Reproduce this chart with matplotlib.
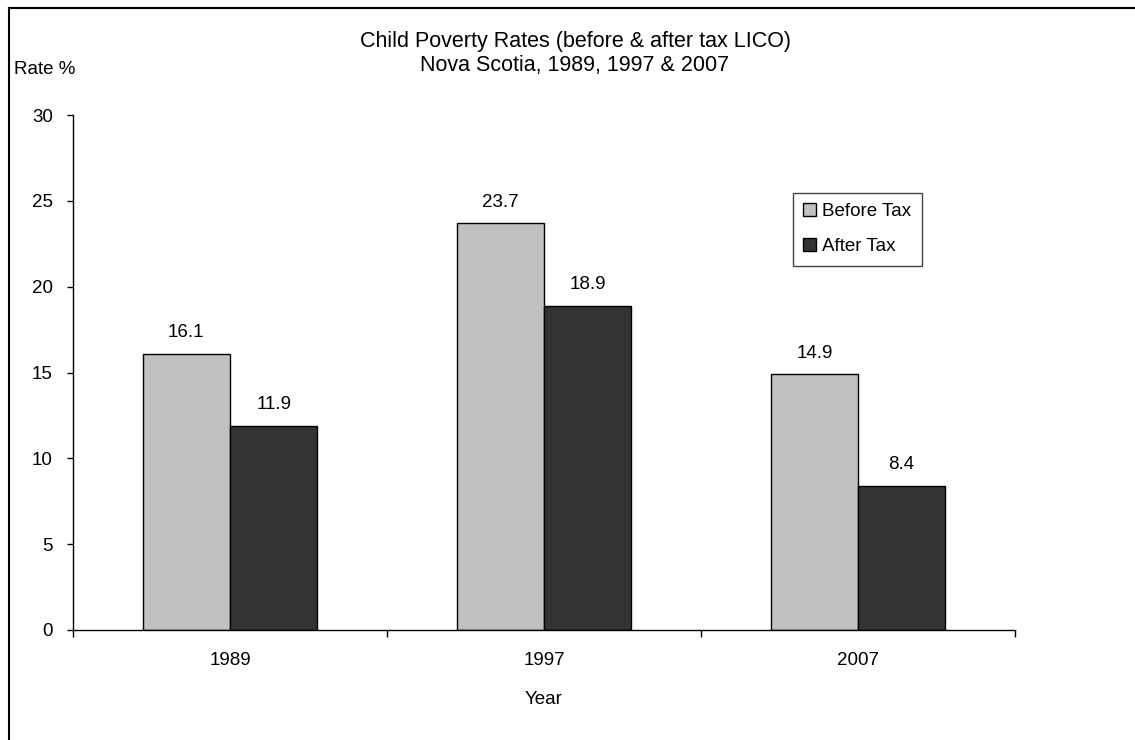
import numpy as np
import matplotlib
matplotlib.use("Agg")
import matplotlib.pyplot as plt
from matplotlib.lines import Line2D

plt.rcParams['font.family'] = ['Liberation Sans', 'DejaVu Sans']

years = ["1989", "1997", "2007"]
before_tax = [16.1, 23.7, 14.9]
after_tax = [11.9, 18.9, 8.4]
y_ticks = [0, 5, 10, 15, 20, 25, 30]

fs = 13.5

fig = plt.figure(figsize=(11.35, 7.4), dpi=100)
ax = fig.add_axes([73/1135, 110/740, 942/1135, 515/740])

x = np.arange(len(years))
w = 0.278
b1 = ax.bar(x - w/2, before_tax, w, color="#c0c0c0", edgecolor="black", linewidth=1, label="Before Tax")
b2 = ax.bar(x + w/2, after_tax, w, color="#333333", edgecolor="black", linewidth=1, label="After Tax")

for bars, vals in [(b1, before_tax), (b2, after_tax)]:
    for r, v in zip(bars, vals):
        ax.annotate(f"{v}", (r.get_x() + r.get_width()/2, v), xytext=(0, 9),
                    textcoords="offset points", ha="center", va="bottom", fontsize=fs)

ax.set_xlim(-0.5, 2.5)
ax.set_ylim(0, 30)
ax.set_yticks(y_ticks)
ax.set_xticks(x)
ax.set_xticklabels(years)
ax.set_xticks([-0.5, 0.5, 1.5, 2.5], minor=True)
ax.tick_params(axis="x", which="major", length=0, pad=16, labelsize=fs)
ax.tick_params(axis="x", which="minor", length=5, width=1, direction="out")
ax.tick_params(axis="y", length=4.5, width=1, pad=10, labelsize=fs, direction="out")
for s in ["top", "right"]:
    ax.spines[s].set_visible(False)
ax.spines["left"].set_linewidth(1)
ax.spines["bottom"].set_linewidth(1)

ax.set_xlabel("Year", fontsize=fs, labelpad=16)

fig.text(575/1135, 1 - 41/740, "Child Poverty Rates (before & after tax LICO)", ha="center", va="center", fontsize=15.5)
fig.text(575/1135, 1 - 65/740, "Nova Scotia, 1989, 1997 & 2007", ha="center", va="center", fontsize=15.5)
fig.text(14/1135, 1 - 70/740, "Rate %", ha="left", va="center", fontsize=fs)

leg = ax.legend(loc="upper left", bbox_to_anchor=((793-73)/942, (630-193)/515),
                fancybox=False, framealpha=1, edgecolor="#444444", fontsize=fs,
                handlelength=0.7, handleheight=0.7, handletextpad=0.3,
                borderpad=0.55, labelspacing=0.95, borderaxespad=0)
leg.get_frame().set_linewidth(1)

# outer border (left and top only visible)
fig.add_artist(Line2D([9/1135, 9/1135], [0, 1 - 8/740], color="black", lw=1.5, transform=fig.transFigure))
fig.add_artist(Line2D([9/1135, 1], [1 - 8/740, 1 - 8/740], color="black", lw=1.5, transform=fig.transFigure))

fig.savefig("out.png", dpi=100)
